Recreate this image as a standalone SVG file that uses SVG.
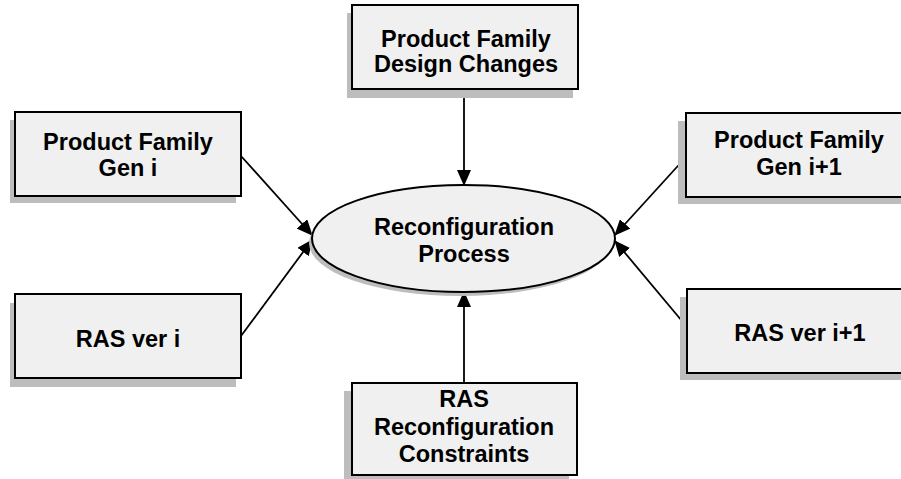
<svg xmlns="http://www.w3.org/2000/svg" width="901" height="479" viewBox="0 0 901 479">
  <style>
    .shadow { fill: #bdbdbd; }
    .box { fill: #f0f0f0; stroke: #000; stroke-width: 2; }
    .label { font-family: "Liberation Sans", Arial, sans-serif; font-weight: bold; font-size: 23.5px; fill: #000; text-anchor: middle; }
    .conn { stroke: #000; stroke-width: 1.8; fill: none; marker-end: url(#arrow); }
  </style>
  <defs>
    <marker id="arrow" markerUnits="userSpaceOnUse" markerWidth="16" markerHeight="14" refX="15" refY="7" orient="auto">
      <path d="M0,0 L16,7 L0,14 z" fill="#000"/>
    </marker>
  </defs>
  <rect width="901" height="479" fill="#fff"/>

  <!-- connectors -->
  <g id="connectors">
    <line class="conn" x1="241" y1="156" x2="312" y2="235"/>
    <line class="conn" x1="241" y1="336" x2="312" y2="240"/>
    <line class="conn" x1="464" y1="89" x2="464" y2="185"/>
    <line class="conn" x1="464" y1="383" x2="464" y2="292"/>
    <line class="conn" x1="686" y1="157" x2="615" y2="235"/>
    <line class="conn" x1="687" y1="327" x2="615" y2="241"/>
  </g>

  <!-- central process -->
  <g id="reconfiguration-process">
    <ellipse class="shadow" cx="460" cy="243" rx="151" ry="53"/>
    <ellipse cx="463.5" cy="238.5" rx="151.5" ry="53.5" fill="#f0f0f0" stroke="#000" stroke-width="2"/>
    <text class="label" x="464" y="235">Reconfiguration</text>
    <text class="label" x="464" y="262">Process</text>
  </g>

  <g id="pf-gen-i">
    <rect class="shadow" x="10" y="120" width="226" height="83"/>
    <rect class="box" x="15" y="112" width="226" height="84"/>
    <text class="label" x="128" y="150">Product Family</text>
    <text class="label" x="128" y="176">Gen i</text>
  </g>

  <g id="pf-design-changes">
    <rect class="shadow" x="347" y="13" width="226" height="85"/>
    <rect class="box" x="352" y="5" width="226" height="84"/>
    <text class="label" x="466" y="47">Product Family</text>
    <text class="label" x="466" y="72">Design Changes</text>
  </g>

  <g id="pf-gen-i1">
    <rect class="shadow" x="678" y="121" width="226" height="83"/>
    <rect class="box" x="686" y="113" width="226" height="84"/>
    <text class="label" x="799" y="148">Product Family</text>
    <text class="label" x="799" y="175">Gen i+1</text>
  </g>

  <g id="ras-ver-i">
    <rect class="shadow" x="10" y="303" width="226" height="84"/>
    <rect class="box" x="15" y="294" width="226" height="84"/>
    <text class="label" x="128" y="347">RAS ver i</text>
  </g>

  <g id="ras-ver-i1">
    <rect class="shadow" x="680" y="297" width="226" height="83"/>
    <rect class="box" x="687" y="289" width="226" height="84"/>
    <text class="label" x="800" y="341">RAS ver i+1</text>
  </g>

  <g id="ras-constraints">
    <rect class="shadow" x="344" y="391" width="225" height="92"/>
    <rect class="box" x="352" y="383" width="225" height="92"/>
    <text class="label" x="464" y="407">RAS</text>
    <text class="label" x="464" y="435">Reconfiguration</text>
    <text class="label" x="464" y="462">Constraints</text>
  </g>
</svg>
